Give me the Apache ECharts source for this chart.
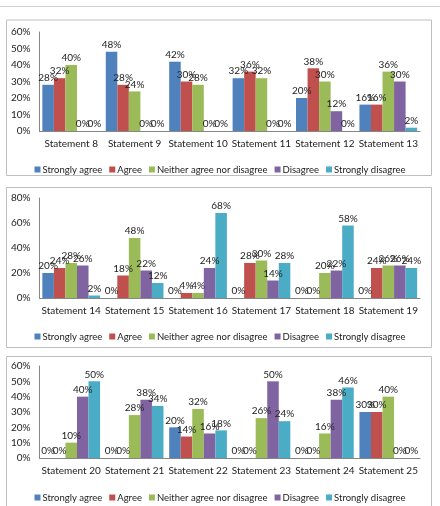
<!DOCTYPE html>
<html><head><meta charset="utf-8">
<script src="https://cdn.jsdelivr.net/npm/echarts@6/dist/echarts.min.js"></script>
<style>html,body{margin:0;padding:0;background:#fff}#c{width:440px;height:506px}</style>
</head><body><div id="c"></div>
<script>
const seriesNames = ['Strongly agree','Agree','Neither agree nor disagree','Disagree','Strongly disagree'];
const colors = ['#4F81BD','#C0504D','#9BBB59','#8064A2','#4BACC6'];

const cats1 = ['Statement 8','Statement 9','Statement 10','Statement 11','Statement 12','Statement 13'];
const sa1 = [28,48,42,32,20,16];
const a1  = [32,28,30,36,38,16];
const n1  = [40,24,28,32,30,36];
const d1  = [0,0,0,0,12,30];
const sd1 = [0,0,0,0,0,2];

const cats2 = ['Statement 14','Statement 15','Statement 16','Statement 17','Statement 18','Statement 19'];
const sa2 = [20,0,0,0,0,0];
const a2  = [24,18,4,28,0,24];
const n2  = [28,48,4,30,20,26];
const d2  = [26,22,24,14,22,26];
const sd2 = [2,12,68,28,58,24];

const cats3 = ['Statement 20','Statement 21','Statement 22','Statement 23','Statement 24','Statement 25'];
const sa3 = [0,0,20,0,0,30];
const a3  = [0,0,14,0,0,30];
const n3  = [10,28,32,26,16,40];
const d3  = [40,38,16,50,38,0];
const sd3 = [50,34,18,24,46,0];

const yMax = [60,80,60];
const yInterval = [10,20,10];

const panels = [
  {cats:cats1, data:[sa1,a1,n1,d1,sd1]},
  {cats:cats2, data:[sa2,a2,n2,d2,sd2]},
  {cats:cats3, data:[sa3,a3,n3,d3,sd3]}
];

const FONT = 'Lato';
const FS = 10;
const LFS = 9.5;
const grids = [
  {left:39.5, width:380.5, top:32, height:99},
  {left:39.5, width:380.5, top:198, height:100},
  {left:39.5, width:380.5, top:366, height:92}
];
const legendTops = [159.5, 326.5, 487.5];
const boxes = [[6,19.5,425,155.5],[6,187,425,160],[6,356,425,160]];

const xAxis = [], yAxis = [], series = [], legend = [];
panels.forEach((p, gi) => {
  xAxis.push({
    type:'category', gridIndex:gi, data:p.cats,
    axisLine:{lineStyle:{color:'#868686'}}, axisTick:{show:false},
    axisLabel:{color:'#222', fontFamily:FONT, fontSize:FS, margin:8, interval:0}
  });
  yAxis.push({
    type:'value', gridIndex:gi, min:0, max:yMax[gi], interval:yInterval[gi],
    splitLine:{show:false},
    axisLine:{show:true, lineStyle:{color:'#868686'}}, axisTick:{show:false},
    axisLabel:{color:'#222', fontFamily:FONT, fontSize:FS, margin:9, formatter:'{value}%'}
  });
  p.data.forEach((arr, si) => {
    series.push({
      name:seriesNames[si], type:'bar', xAxisIndex:gi, yAxisIndex:gi,
      data:arr, barGap:'0%', barCategoryGap:'9%',
      itemStyle:{color:colors[si]},
      label:{show:true, position:'top', distance:2, formatter:'{c}%', color:'#222', fontFamily:FONT, fontSize:FS},
      animation:false
    });
  });
  legend.push({
    data:seriesNames, top:legendTops[gi], left:'center', itemWidth:6, itemHeight:6, itemGap:7,
    icon:'rect', textStyle:{color:'#222', fontFamily:FONT, fontSize:LFS, padding:[0,0,0,-3]}
  });
});

const graphic = [{type:'line', shape:{x1:0,y1:6.5,x2:440,y2:6.5}, style:{stroke:'#d0d0d0', lineWidth:1}}];
boxes.forEach(b => graphic.push({type:'rect', shape:{x:b[0]+0.5,y:b[1]+0.5,width:b[2],height:b[3]}, style:{fill:'none', stroke:'#bfbfbf', lineWidth:1}, z:-1}));

const chart = echarts.init(document.getElementById('c'), null, {renderer:'canvas'});
chart.setOption({
  animation:false, color:colors, grid:grids, xAxis, yAxis, series, legend, graphic
});
</script></body></html>
